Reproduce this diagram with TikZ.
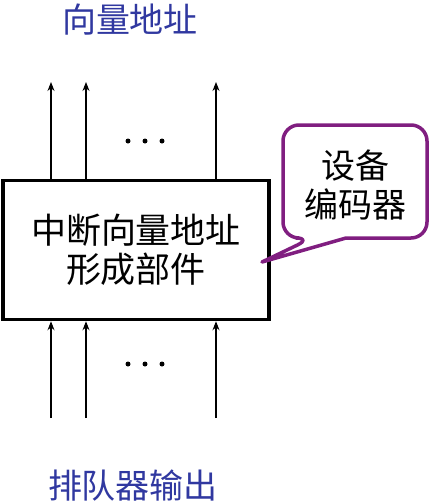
\documentclass[tikz,border=0pt]{standalone}
\usepackage{fontspec}
\newfontfamily\cjk{Noto Sans CJK SC}
\usetikzlibrary{arrows.meta}
\definecolor{labelblue}{RGB}{48,56,160}
\definecolor{calloutpurple}{RGB}{128,30,128}
\tikzset{
  sig/.style={-{Stealth[length=9pt,width=7pt]},line width=1.1pt},
  cjktext/.style={font=\cjk\fontsize{34}{39}\selectfont,align=center,inner sep=0pt},
  dotmark/.style={circle,fill,inner sep=0pt,minimum size=5pt}
}
\begin{document}
\begin{tikzpicture}[x=1pt,y=-1pt]
  \useasboundingbox (0,0) rectangle (431,504);
  % labels
  \node[cjktext,text=labelblue] (out) at (130,20) {向量地址};
  \node[cjktext,text=labelblue] (in) at (133,486) {排队器输出};
  % main block
  \node[draw,line width=3.5pt,minimum width=266pt,minimum height=139pt,
        font=\cjk\fontsize{35}{39}\selectfont,align=center,inner sep=0pt] (box) at (136,250) {中断向量地址\\形成部件};
  % outputs
  \foreach \x/\n in {51/a,86/b,216/c}{
    \coordinate (top\n) at (\x,82);
    \coordinate (bot\n) at (\x,418);
    \draw[sig] (box.north -| top\n) -- (top\n);
    \draw[sig] (bot\n) -- (box.south -| bot\n);
  }
  \foreach \x in {128,145,162}{
    \node[dotmark] at (\x,141) {};
    \node[dotmark] at (\x,364) {};
  }
  % callout
  \coordinate (tip) at (262,262);
  \draw[calloutpurple,line width=3.5pt,line join=round,fill=white,rounded corners=16pt]
    (346,238) -- (427,238) -- (427,125) -- (283,125) -- (283,238) -- (312,238)
    [sharp corners] -- (tip) -- cycle;
  \node[cjktext] (enc) at (355,185) {设备\\编码器};
\end{tikzpicture}
\end{document}
